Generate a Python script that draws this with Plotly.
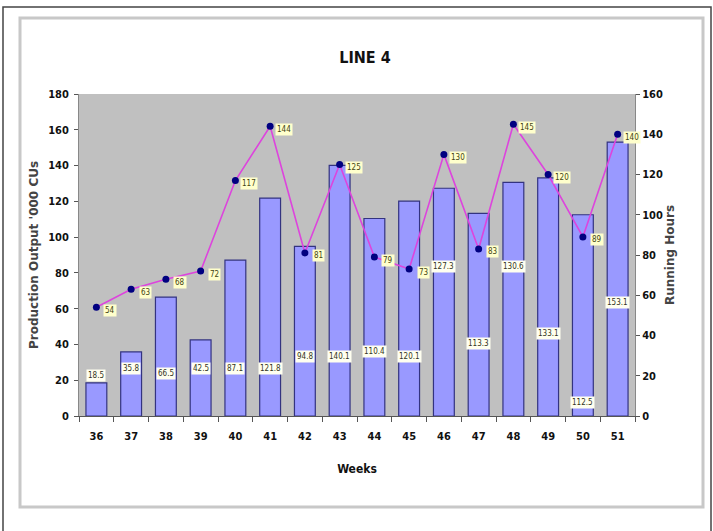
import plotly.graph_objects as go

weeks = ["36", "37", "38", "39", "40", "41", "42", "43", "44", "45", "46", "47", "48", "49", "50", "51"]
production = [18.5, 35.8, 66.5, 42.5, 87.1, 121.8, 94.8, 140.1, 110.4, 120.1, 127.3, 113.3, 130.6, 133.1, 112.5, 153.1]
running_hours = [54, 63, 68, 72, 117, 144, 81, 125, 79, 73, 130, 83, 145, 120, 89, 140]
# vertical anchors (left-axis units) where the production labels were placed in the original
bar_label_y = [22.4, 26.8, 24.0, 26.8, 26.8, 26.8, 33.0, 33.0, 35.8, 33.0, 83.3, 40.8, 83.3, 46.4, 7.3, 63.2]

W, H = 713, 531
L, R, T, B = 79, 78, 94, 115
pw, ph = W - L - R, H - T - B

def px(x):
    return (x - L) / pw

def py(y):
    return (H - B - y) / ph

narrow = "DejaVu Sans Condensed, Liberation Sans Narrow, Arial Narrow, sans-serif"
tick_font = dict(family=narrow, size=11, color="#111111", weight="bold")

fig = go.Figure()
fig.add_trace(go.Bar(
    x=weeks, y=production, name="Production",
    marker=dict(color="#9999ff", line=dict(color="#333380", width=1.2)),
    yaxis="y", hoverinfo="x+y",
))
fig.add_trace(go.Scatter(
    x=weeks, y=running_hours, name="Running Hours", yaxis="y2",
    mode="lines+markers",
    line=dict(color="#dd44dd", width=1.6),
    marker=dict(color="#000080", size=7),
))

ann = []
for i, (v, ly) in enumerate(zip(production, bar_label_y)):
    ann.append(dict(x=i, y=ly, xref="x", yref="y", text=f"{v:.1f}", showarrow=False,
                    font=dict(family=narrow, size=8, color="#333322"),
                    bgcolor="#fffff0", borderpad=1))
for i, v in enumerate(running_hours):
    ann.append(dict(x=i, y=v, xref="x", yref="y2", text=f"{v}", showarrow=False,
                    xshift=14, yshift=-3,
                    font=dict(family=narrow, size=8, color="#444411"),
                    bgcolor="#ffffcc", borderpad=1))

shapes = [
    dict(type="rect", xref="paper", yref="paper", x0=px(3), x1=px(711), y0=py(535), y1=py(7),
         line=dict(color="#444444", width=1.5), layer="below"),
    dict(type="rect", xref="paper", yref="paper", x0=px(20), x1=px(703), y0=py(507), y1=py(18),
         line=dict(color="#c8c8c8", width=3), layer="below"),
]

fig.update_layout(
    width=W, height=H,
    margin=dict(l=L, r=R, t=T, b=B),
    paper_bgcolor="white",
    plot_bgcolor="#c0c0c0",
    showlegend=False,
    bargap=0.4,
    title=dict(text="<b>LINE 4</b>", x=365 / W, xanchor="center", y=1 - 57 / H, yanchor="middle",
               font=dict(family=narrow, size=16, color="#111111")),
    xaxis=dict(
        type="category", range=[-0.5, len(weeks) - 0.5], autorange=False,
        tickson="boundaries", ticks="outside", ticklen=5, tickcolor="#555555",
        showline=True, linecolor="#555555", linewidth=1, showgrid=False,
        tickfont=tick_font, tickangle=0, ticklabelstandoff=10,
        title=dict(text="<b>Weeks</b>", font=dict(family=narrow, size=12, color="#111111"), standoff=22),
    ),
    yaxis=dict(
        range=[0, 180], dtick=20, ticks="outside", ticklen=4, tickcolor="#555555",
        showline=True, linecolor="#888888", showgrid=False, zeroline=False,
        tickfont=tick_font, ticklabelstandoff=3,
        title=dict(text="<b>Production Output '000 CUs</b>", font=dict(family="DejaVu Sans, Verdana", size=12, color="#444444"), standoff=6),
    ),
    yaxis2=dict(
        range=[0, 160], dtick=20, overlaying="y", side="right", ticks="outside", ticklen=4, tickcolor="#555555",
        showline=True, linecolor="#888888", showgrid=False, zeroline=False,
        tickfont=tick_font,
        title=dict(text="<b>Running Hours</b>", font=dict(family="DejaVu Sans, Verdana", size=12, color="#444444"), standoff=2),
    ),
    annotations=ann,
    shapes=shapes,
)

fig.write_html("out.html", config={"displayModeBar": False},
               post_script="document.body.style.margin='0';document.body.style.overflow='hidden';")
